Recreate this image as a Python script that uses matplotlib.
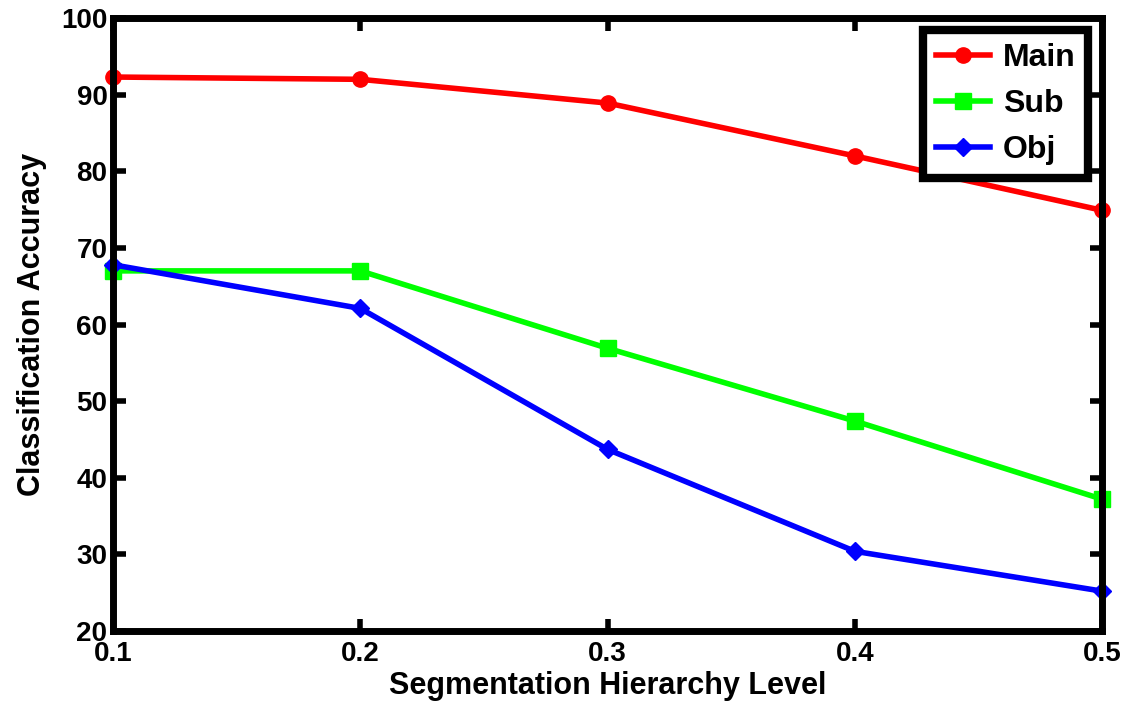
"""Classification accuracy vs segmentation hierarchy level."""

import matplotlib

matplotlib.use("Agg")
import matplotlib.pyplot as plt

levels = [0.1, 0.2, 0.3, 0.4, 0.5]
main_acc = [92.3, 92.0, 88.9, 82.0, 74.9]
sub_acc = [67.0, 67.0, 56.9, 47.4, 37.2]
obj_acc = [67.8, 62.1, 43.7, 30.4, 25.2]

plt.rcParams["font.family"] = ["Liberation Sans", "DejaVu Sans"]
plt.rcParams["font.weight"] = "bold"

fig = plt.figure(figsize=(11.27, 7.07), dpi=100)
ax = fig.add_axes([0.1003, 0.1075, 0.8777, 0.867])

ax.plot(levels, main_acc, color="#ff0000", lw=4, marker="o", ms=11, label="Main", clip_on=False)
ax.plot(levels, sub_acc, color="#00ff00", lw=4, marker="s", ms=11, label="Sub", clip_on=False)
ax.plot(levels, obj_acc, color="#0000ff", lw=4, marker="D", ms=9, label="Obj", clip_on=False)

ax.set_xlim(0.1, 0.5)
ax.set_ylim(20, 100)
ax.set_xticks(levels)
ax.set_xticklabels(["0.1", "0.2", "0.3", "0.4", "0.5"])
ax.set_yticks(range(20, 101, 10))
ax.tick_params(direction="in", length=9, width=4, labelsize=20, top=True, right=True, pad=4)
ax.tick_params(axis="x", pad=7)
for s in ax.spines.values():
    s.set_linewidth(5)
ax.set_xlabel("Segmentation Hierarchy Level", fontsize=22, fontweight="bold", labelpad=3)
ax.set_ylabel("Classification Accuracy", fontsize=22, fontweight="bold", labelpad=10)

leg = ax.legend(loc="upper right", fontsize=23, fancybox=False, framealpha=1,
                edgecolor="black", borderpad=0.4, handlelength=1.7, handletextpad=0.4,
                labelspacing=0.5, borderaxespad=0, bbox_to_anchor=(0.986, 0.98))
leg.get_frame().set_linewidth(6)

fig.savefig("out.png", dpi=100)
